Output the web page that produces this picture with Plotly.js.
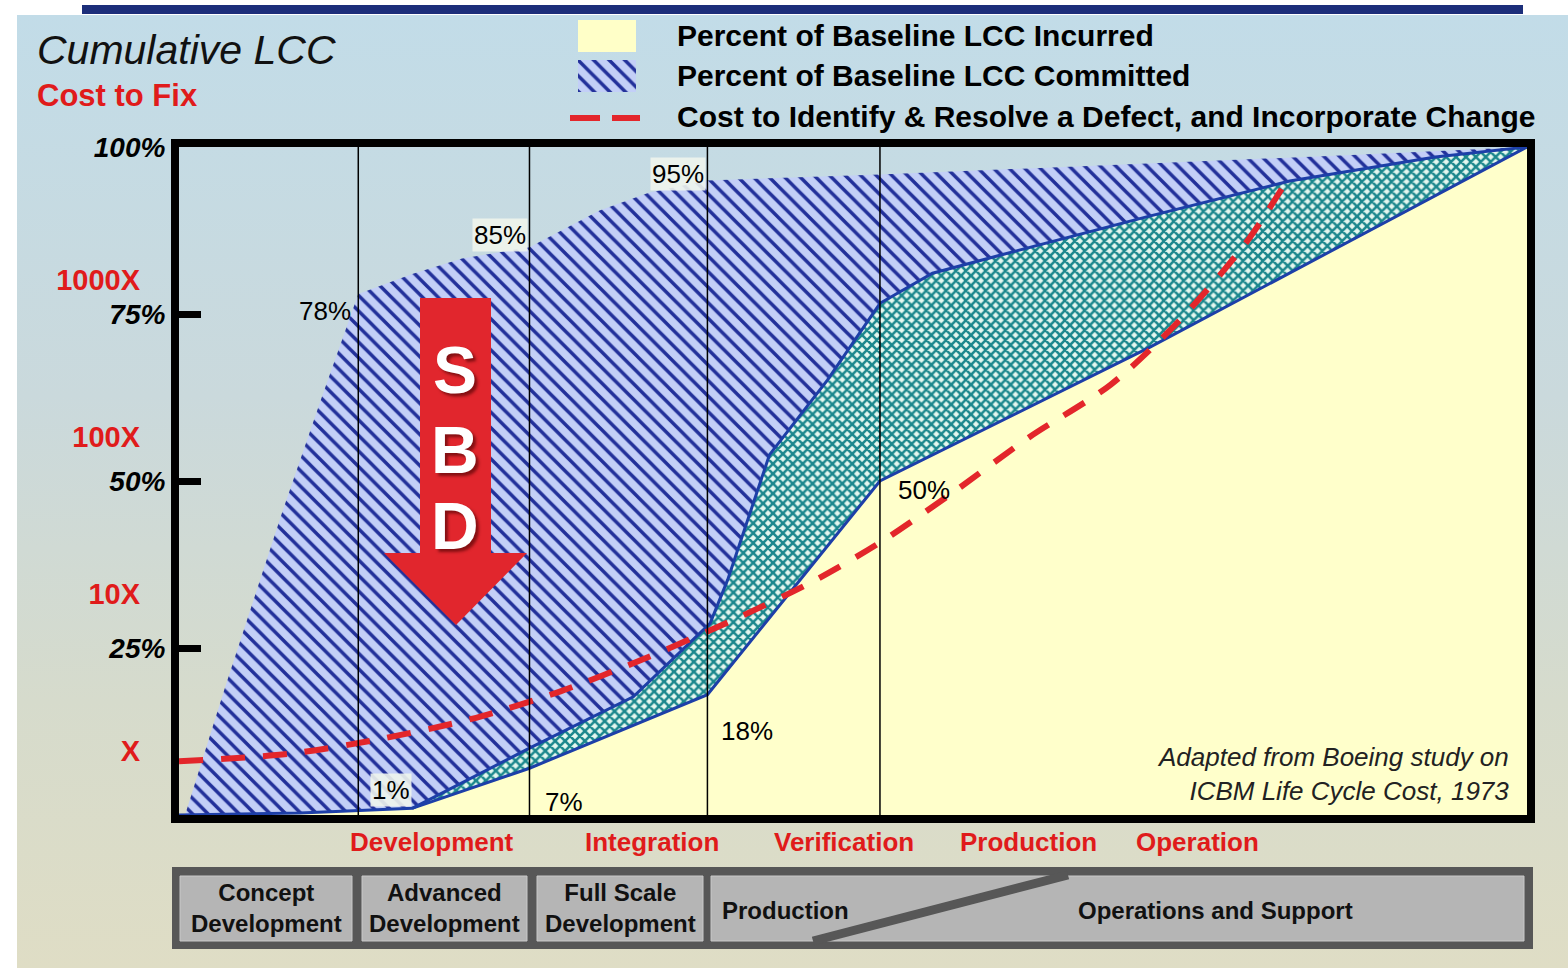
<!DOCTYPE html>
<html>
<head>
<meta charset="utf-8">
<script src="https://cdn.plot.ly/plotly-3.0.1.min.js"></script>
<style>
  html, body { margin: 0; padding: 0; background: #fff; }
  #wrap { position: relative; width: 1568px; height: 968px; overflow: hidden; background: #fff; }
  #panel { position: absolute; left: 17px; top: 15px; right: 0; bottom: 0;
           background: linear-gradient(to bottom, #c2dce8 0%, #cad9dc 40%, #d6dbcc 72%, #dfddc5 100%); }
  #bar { position: absolute; left: 82px; top: 5px; width: 1441px; height: 9px; background: #1c2e7a; }
  #chart { position: absolute; left: 0; top: 0; width: 1568px; height: 968px; }
</style>
</head>
<body>
<div id="wrap"><div id="panel"></div><div id="bar"></div><div id="chart"></div></div>
<script>
// Program life-cycle timeline runs 0..100 along x; cumulative LCC is in percent on y.
const phaseBounds = [13.3, 26.0, 39.2, 52.0];

// Percent of baseline LCC incurred
const incurredX = [0, 9, 17.3, 26.0, 39.2, 52.0, 72, 100];
const incurredY = [0, 0.3, 1, 7, 18, 50, 70, 100];

// Percent of baseline LCC committed (outer envelope of the hatched band)
const committedTopX = [0.45, 3.4, 7.6, 10.5, 13.3, 17.3, 21.0, 26.0, 31.2, 34.9, 39.2, 52, 63, 75, 87, 100];
const committedTopY = [0, 19, 45, 62, 78, 81, 83.3, 85, 90.5, 93.2, 95, 95.9, 96.8, 97.8, 98.8, 100];

// Lower edge of the committed band (top of the checkered band)
const committedLowX = [17.3, 26.0, 33.7, 39.4, 40.7, 43.8, 48.1, 52.0, 55.9, 60.9, 71.7, 82.4, 93.2, 100];
const committedLowY = [1, 10, 17.7, 28.7, 35.2, 53.9, 65.1, 76.6, 81.1, 83.8, 89.5, 94.9, 98.5, 100];

// Cost to identify & resolve a defect (multiples of X, log scale)
const costX = [0, 8.2, 15.1, 21.7, 28.3, 34.6, 40.9, 47.0, 51.9, 57.2, 63.1, 69.1, 74.2, 79.1, 81.8];
const costY = [0.86, 0.96, 1.2, 1.6, 2.4, 3.9, 6.7, 12, 21, 43, 100, 215, 550, 1700, 3800];

const pctTicks = [25, 50, 75, 100];
const pctTickText = ['25%', '50%', '75%', '100%'];
const costTicks = [1, 10, 100, 1000];
const costTickText = ['X', '10X', '100X', '1000X'];

const lifecyclePhases = ['Development', 'Integration', 'Verification', 'Production', 'Operation'];
const programPhases = ['Concept<br>Development', 'Advanced<br>Development', 'Full Scale<br>Development', 'Production', 'Operations and Support'];
const legendLabels = ['Percent of Baseline LCC Incurred', 'Percent of Baseline LCC Committed',
                      'Cost to Identify & Resolve a Defect, and Incorporate Change'];

// ---- page geometry helpers (pixels -> paper fractions) ----
const W = 1568, H = 968;
const px = v => v / W;
const py = v => 1 - v / H;

const SANS = '"Liberation Sans", Arial, sans-serif';
const RED = '#e01b1b';
const BLUE_EDGE = '#1d3fa8';

const hatchPattern = { shape: '\\', fgcolor: '#22309a', bgcolor: '#c3cff7', size: 11, solidity: 0.32 };
const checkPattern = { shape: 'x', fgcolor: '#1b878d', bgcolor: '#e4f7ef', size: 7, solidity: 0.6 };

const traces = [
  { // incurred area
    type: 'scatter', mode: 'lines', x: incurredX, y: incurredY, fill: 'tozeroy',
    fillcolor: '#ffffcb', line: { width: 0 }, hoverinfo: 'skip', showlegend: false
  },
  { // band between committed lower edge and incurred
    type: 'scatter', mode: 'lines',
    x: committedLowX.concat(incurredX.slice(2).reverse()),
    y: committedLowY.concat(incurredY.slice(2).reverse()),
    fill: 'toself', fillcolor: 'rgba(0,0,0,0)', fillpattern: checkPattern,
    line: { width: 0 }, hoverinfo: 'skip', showlegend: false
  },
  { // committed band
    type: 'scatter', mode: 'lines',
    x: committedTopX.concat(committedLowX.slice().reverse(), incurredX.slice(0, 3).reverse()),
    y: committedTopY.concat(committedLowY.slice().reverse(), incurredY.slice(0, 3).reverse()),
    fill: 'toself', fillcolor: 'rgba(0,0,0,0)', fillpattern: hatchPattern,
    line: { width: 0 }, hoverinfo: 'skip', showlegend: false
  },
  { type: 'scatter', mode: 'lines', x: incurredX, y: incurredY,
    line: { color: BLUE_EDGE, width: 3 }, hoverinfo: 'skip', showlegend: false },
  { type: 'scatter', mode: 'lines', x: committedLowX, y: committedLowY,
    line: { color: BLUE_EDGE, width: 3 }, hoverinfo: 'skip', showlegend: false },
  { type: 'scatter', mode: 'lines', x: costX, y: costY, yaxis: 'y2',
    line: { color: '#e3262b', width: 6, dash: '24px,18px', shape: 'spline', smoothing: 0.8 },
    hoverinfo: 'skip', showlegend: false },
  { // hatched legend key
    type: 'scatter', mode: 'lines', x: [0, 1, 1, 0, 0], y: [0, 0, 1, 1, 0],
    xaxis: 'x3', yaxis: 'y3', fill: 'toself', fillcolor: 'rgba(0,0,0,0)',
    fillpattern: hatchPattern, line: { width: 0 }, hoverinfo: 'skip', showlegend: false
  }
];

// ---- annotations ----
const ann = [];
const A = o => ann.push(Object.assign({ showarrow: false, xref: 'paper', yref: 'paper' }, o));

A({ x: px(35), y: py(50), xanchor: 'left', yanchor: 'middle', text: 'Cumulative LCC',
    font: { family: SANS, size: 41, style: 'italic', color: '#111' } });
A({ x: px(35), y: py(95), xanchor: 'left', yanchor: 'middle', text: 'Cost to Fix',
    font: { family: SANS, size: 31, weight: 'bold', color: RED } });

const legendRows = [36, 76, 116];
legendLabels.forEach((t, i) => A({ x: px(675), y: py(legendRows[i]), xanchor: 'left', yanchor: 'middle',
  text: t, font: { family: SANS, size: 30, weight: 'bold', color: '#000' } }));

// value labels at the curve vertices
const vLab = (x, y, xa, ya, xs, ys, boxed) => ann.push({
  x: x, y: y, xref: 'x', yref: 'y', text: y + '%', showarrow: false,
  xanchor: xa, yanchor: ya, xshift: xs, yshift: ys,
  bgcolor: boxed ? 'rgba(238,244,236,0.9)' : 'rgba(0,0,0,0)', borderpad: 1,
  font: { family: SANS, size: 26, color: '#000' }
});
vLab(committedTopX[4], committedTopY[4], 'right', 'top', -5, 0, false);
vLab(committedTopX[7], committedTopY[7], 'right', 'middle', -1, 12, true);
vLab(committedTopX[10], committedTopY[10], 'right', 'middle', -1, 6, true);
vLab(incurredX[2], incurredY[2], 'right', 'middle', 0, 18, true);
vLab(incurredX[3], incurredY[3], 'left', 'middle', 14, -34, false);
vLab(incurredX[4], incurredY[4], 'left', 'middle', 12, -36, false);
vLab(incurredX[5], incurredY[5], 'left', 'middle', 16, -9, false);

const phaseCenters = [432, 652, 844, 1028, 1197];
lifecyclePhases.forEach((t, i) => A({ x: px(phaseCenters[i]), y: py(842), xanchor: 'center', yanchor: 'middle',
  text: t, font: { family: SANS, size: 26, weight: 'bold', color: RED } }));

const boxCenters = [266, 444, 620];
programPhases.slice(0, 3).forEach((t, i) => A({ x: px(boxCenters[i]), y: py(908), xanchor: 'center', yanchor: 'middle',
  text: t, align: 'center', font: { family: SANS, size: 24, weight: 'bold', color: '#111' } }));
A({ x: px(720), y: py(910), xanchor: 'left', yanchor: 'middle', text: programPhases[3],
    font: { family: SANS, size: 24, weight: 'bold', color: '#111' } });
A({ x: px(1215), y: py(910), xanchor: 'center', yanchor: 'middle', text: programPhases[4],
    font: { family: SANS, size: 24, weight: 'bold', color: '#111' } });

A({ x: px(1511), y: py(774), xanchor: 'right', yanchor: 'middle', align: 'right',
    text: 'Adapted from Boeing study on<br>ICBM Life Cycle Cost, 1973',
    font: { family: SANS, size: 26, style: 'italic', color: '#222' } });

// SBD arrow lettering
const sbdRows = [370, 450, 526];
['S', 'B', 'D'].forEach((t, i) => A({ x: px(455), y: py(sbdRows[i]), xanchor: 'center', yanchor: 'middle',
  text: t, font: { family: SANS, size: 66, weight: 'bold', color: '#ffffff',
  shadow: '3px 3px 3px rgba(70,0,0,0.6)' } }));

// ---- shapes ----
const shapes = [];
phaseBounds.forEach(b => shapes.push({ type: 'line', xref: 'x', yref: 'y domain', x0: b, x1: b, y0: 0, y1: 1,
  line: { color: '#000', width: 1.5 }, layer: 'above' }));

const pathOf = pts => 'M' + pts.map(p => px(p[0]).toFixed(5) + ',' + py(p[1]).toFixed(5)).join(' L') + ' Z';
shapes.push({ type: 'path', xref: 'paper', yref: 'paper', layer: 'above',
  path: pathOf([[420, 298], [491, 298], [491, 553], [527, 553], [456, 625], [384, 553], [420, 553]]),
  fillcolor: '#e1262d', line: { width: 0 } });

const rect = (x0, y0, x1, y1, fill, line) => shapes.push({ type: 'rect', xref: 'paper', yref: 'paper',
  x0: px(x0), x1: px(x1), y0: py(y1), y1: py(y0), fillcolor: fill, line: line || { width: 0 }, layer: 'above' });

// legend keys
rect(578, 20, 636, 52, '#ffffc8');
shapes.push({ type: 'line', xref: 'paper', yref: 'paper', x0: px(570), x1: px(600), y0: py(118), y1: py(118),
  line: { color: '#e3262b', width: 6 } });
shapes.push({ type: 'line', xref: 'paper', yref: 'paper', x0: px(612), x1: px(640), y0: py(118), y1: py(118),
  line: { color: '#e3262b', width: 6 } });

// program phase strip
rect(172, 867, 1533, 949, '#575757');
[[180, 352], [362, 527], [537, 703], [711, 1524]].forEach(b =>
  rect(b[0], 876, b[1], 941, '#b5b5b5', { color: '#c9c9c9', width: 1 }));
shapes.push({ type: 'line', xref: 'paper', yref: 'paper', x0: px(813), y0: py(941), x1: px(1068), y1: py(875),
  line: { color: '#575757', width: 9 }, layer: 'above' });

const layout = {
  width: W, height: H,
  margin: { l: 0, r: 0, t: 0, b: 0 },
  paper_bgcolor: 'rgba(0,0,0,0)', plot_bgcolor: 'rgba(0,0,0,0)',
  showlegend: false,
  xaxis: { domain: [px(179), px(1527)], range: [0, 100], showgrid: false, zeroline: false,
    showticklabels: false, ticks: '', showline: true, linewidth: 8, linecolor: '#000', mirror: true, fixedrange: true },
  yaxis: { domain: [py(815), py(147)], range: [0, 100], showgrid: false, zeroline: false,
    tickvals: pctTicks, ticktext: pctTickText, ticks: 'inside', ticklen: 22, tickwidth: 7, tickcolor: '#000',
    tickfont: { family: SANS, size: 28, weight: 'bold', style: 'italic', color: '#000' },
    showline: true, linewidth: 8, linecolor: '#000', mirror: true, fixedrange: true },
  yaxis2: { overlaying: 'y', type: 'log', anchor: 'free', position: px(140), side: 'left',
    range: [-(815 - 751) / 157, (751 - 147) / 157],
    tickvals: costTicks, ticktext: costTickText, ticks: '', showline: false, showgrid: false, zeroline: false,
    tickfont: { family: SANS, size: 29, weight: 'bold', color: RED }, fixedrange: true },
  xaxis3: { domain: [px(578), px(636)], range: [0, 1], visible: false, anchor: 'y3', fixedrange: true },
  yaxis3: { domain: [py(92), py(60)], range: [0, 1], visible: false, anchor: 'x3', fixedrange: true },
  annotations: ann,
  shapes: shapes
};

Plotly.newPlot('chart', traces, layout, { displayModeBar: false, staticPlot: true });
</script>
</body>
</html>
